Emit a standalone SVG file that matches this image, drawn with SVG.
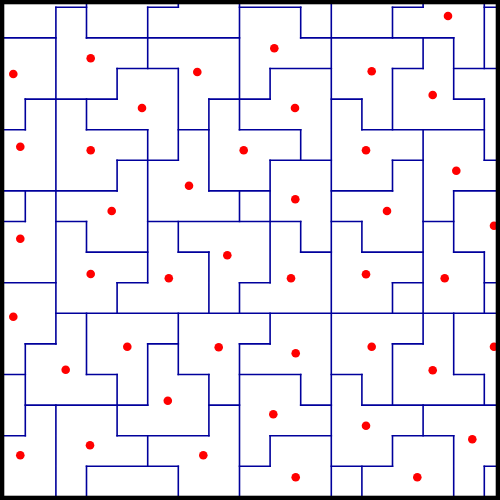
<svg xmlns="http://www.w3.org/2000/svg" width="500" height="500" viewBox="0 0 500 500">
<style>
.edges{fill:none;stroke:#00009c;stroke-width:1.6;stroke-linecap:square;vector-effect:non-scaling-stroke}
.dot{fill:#ff0000}
</style>
<rect width="500" height="500" fill="#ffffff"/>
<g id="tile-edges" transform="translate(25.3,7.3) scale(30.6)">
<path class="edges" d="M0 3V4M0 6V7M0 11V14M1 0V11M1 13V16M2 -1V1M2 3V4M2 7V8M2 10V12M2 15V16M3 2V3M3 5V6M3 9V10M3 12V14M4 0V2M4 4V9M4 11V13M4 14V15M5 -1V0M5 2V5M5 7V8M5 10V12M5 15V16M6 3V6M6 8V10M6 12V14M7 -1V4M7 6V7M7 9V10M7 11V16M8 2V3M8 5V9M8 10V11M8 14V15M9 0V1M9 4V5M9 7V8M9 12V13M10 -1V16M11 3V4M11 7V8M11 12V13M11 15V16M12 0V1M12 2V4M12 5V6M12 9V10M12 11V13M12 14V15M13 -1V0M13 1V2M13 4V11M13 13V14M14 1V3M14 6V8M14 10V12M14 14V16M15 -1V2M15 3V5M15 8V10M15 12V13M15 15V16"/>
<path class="edges" d="M1 0H2M4 0H5M7 0H9M12 0H13M15 0H16M-1 1H1M2 1H7M9 1H14M3 2H5M8 2H10M12 2H13M14 2H16M0 3H3M6 3H8M10 3H11M14 3H15M-1 4H0M2 4H4M5 4H6M7 4H9M11 4H15M3 5H5M8 5H10M12 5H13M15 5H16M-1 6H3M6 6H8M10 6H12M14 6H16M-1 7H0M1 7H2M4 7H9M10 7H11M13 7H14M2 8H4M5 8H6M9 8H10M11 8H13M14 8H15M-1 9H1M3 9H4M7 9H8M12 9H13M15 9H16M1 10H16M0 11H1M4 11H5M7 11H8M12 11H13M-1 12H0M2 12H3M5 12H6M7 12H9M10 12H11M14 12H15M0 13H4M6 13H7M9 13H10M11 13H16M-1 14H0M3 14H6M8 14H10M12 14H14M2 15H5M7 15H8M10 15H12M15 15H16"/>
</g>
<g id="centroids">
<circle class="dot" cx="448" cy="16" r="4.3"/>
<circle class="dot" cx="90.7" cy="58.3" r="4.3"/>
<circle class="dot" cx="274.3" cy="48.3" r="4.3"/>
<circle class="dot" cx="13.3" cy="74" r="4.3"/>
<circle class="dot" cx="197.3" cy="72" r="4.3"/>
<circle class="dot" cx="371.7" cy="71.3" r="4.3"/>
<circle class="dot" cx="432.7" cy="95" r="4.3"/>
<circle class="dot" cx="142" cy="108" r="4.3"/>
<circle class="dot" cx="295" cy="108" r="4.3"/>
<circle class="dot" cx="20.3" cy="146.7" r="4.3"/>
<circle class="dot" cx="90.7" cy="150.3" r="4.3"/>
<circle class="dot" cx="243.7" cy="150.3" r="4.3"/>
<circle class="dot" cx="366" cy="150.3" r="4.3"/>
<circle class="dot" cx="456.3" cy="170.7" r="4.3"/>
<circle class="dot" cx="189" cy="185.7" r="4.3"/>
<circle class="dot" cx="295.3" cy="199.3" r="4.3"/>
<circle class="dot" cx="111.7" cy="211" r="4.3"/>
<circle class="dot" cx="387" cy="211" r="4.3"/>
<circle class="dot" cx="494" cy="225.7" r="4.3"/>
<circle class="dot" cx="20.3" cy="238.7" r="4.3"/>
<circle class="dot" cx="227.3" cy="255.3" r="4.3"/>
<circle class="dot" cx="90.7" cy="274" r="4.3"/>
<circle class="dot" cx="168.8" cy="278.3" r="4.3"/>
<circle class="dot" cx="291" cy="278.3" r="4.3"/>
<circle class="dot" cx="366" cy="274.3" r="4.3"/>
<circle class="dot" cx="444.7" cy="278.3" r="4.3"/>
<circle class="dot" cx="13.3" cy="316.7" r="4.3"/>
<circle class="dot" cx="127.3" cy="346.7" r="4.3"/>
<circle class="dot" cx="218.7" cy="347.3" r="4.3"/>
<circle class="dot" cx="295.7" cy="353.3" r="4.3"/>
<circle class="dot" cx="371.7" cy="346.7" r="4.3"/>
<circle class="dot" cx="494" cy="346.7" r="4.3"/>
<circle class="dot" cx="65.7" cy="369.7" r="4.3"/>
<circle class="dot" cx="432.7" cy="370.3" r="4.3"/>
<circle class="dot" cx="167.8" cy="400.7" r="4.3"/>
<circle class="dot" cx="273.3" cy="414.3" r="4.3"/>
<circle class="dot" cx="90" cy="445.3" r="4.3"/>
<circle class="dot" cx="366" cy="425.7" r="4.3"/>
<circle class="dot" cx="472.3" cy="439.3" r="4.3"/>
<circle class="dot" cx="20.3" cy="455.3" r="4.3"/>
<circle class="dot" cx="203.3" cy="455.3" r="4.3"/>
<circle class="dot" cx="295.7" cy="477.3" r="4.3"/>
<circle class="dot" cx="417.3" cy="477.3" r="4.3"/>
</g>
<rect id="frame" x="0" y="0" width="500" height="500" fill="none" stroke="#000000" stroke-width="8.6"/>
</svg>
